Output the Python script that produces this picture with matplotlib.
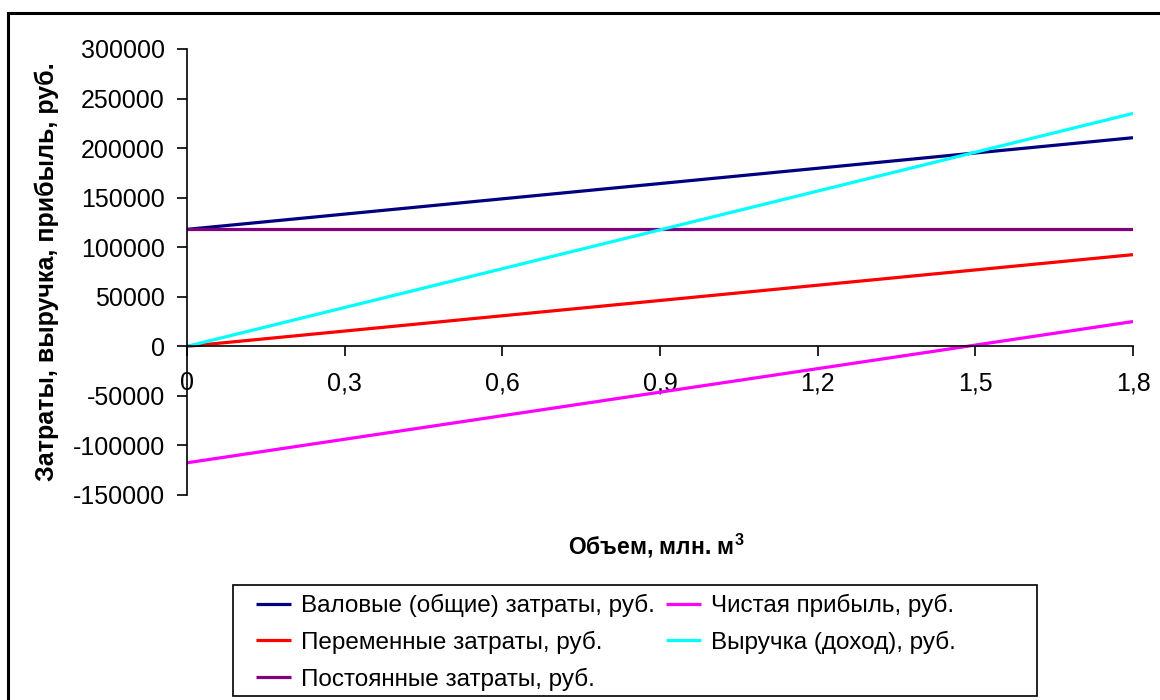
import matplotlib
matplotlib.use("Agg")
import matplotlib.pyplot as plt
from matplotlib.ticker import FuncFormatter, MultipleLocator
from matplotlib.patches import Rectangle

plt.rcParams['font.family'] = ['Liberation Sans', 'DejaVu Sans']
plt.rcParams['mathtext.fontset'] = 'custom'
plt.rcParams['mathtext.rm'] = 'Liberation Sans'
plt.rcParams['mathtext.bf'] = 'Liberation Sans:bold'

volume = [0.0, 1.8]
total_costs = [118000, 210500]
variable_costs = [0, 92500]
fixed_costs = [118000, 118000]
net_profit = [-117500, 25000]
revenue = [0, 235000]

labels = ["Валовые (общие) затраты, руб.", "Переменные затраты, руб.",
          "Постоянные затраты, руб.", "Чистая прибыль, руб.", "Выручка (доход), руб."]
colors = ["#000080", "#FF0000", "#800080", "#FF00FF", "#00FFFF"]
series = [total_costs, variable_costs, fixed_costs, net_profit, revenue]

W, H = 1160, 700
fig = plt.figure(figsize=(W / 100, H / 100), dpi=100)
ax = fig.add_axes([187 / W, 1 - 495 / H, (1133 - 187) / W, (495 - 49) / H])

# outer border
fig.patches.append(Rectangle((8 / W, -0.1), 1.2, 1 - 13 / H + 0.1, transform=fig.transFigure,
                             fill=False, edgecolor='black', linewidth=2.2))

handles = []
for vals, lab, c in zip(series, labels, colors):
    h, = ax.plot(volume, vals, color=c, lw=2.3, label=lab, solid_capstyle='butt')
    handles.append(h)

ax.set_xlim(0, 1.8)
ax.set_ylim(-150000, 300000)
ax.yaxis.set_major_locator(MultipleLocator(50000))
ax.xaxis.set_major_locator(MultipleLocator(0.3))
ax.xaxis.set_major_formatter(FuncFormatter(lambda v, p: ("%g" % round(v, 1)).replace('.', ',')))
ax.yaxis.set_major_formatter(FuncFormatter(lambda v, p: "%d" % v))

for s in ['top', 'right']:
    ax.spines[s].set_visible(False)
ax.spines['bottom'].set_position(('data', 0))
ax.spines['left'].set_color('black')
ax.spines['bottom'].set_color('black')
ax.spines['left'].set_linewidth(1.2)
ax.spines['bottom'].set_linewidth(1.2)
ax.tick_params(axis='y', direction='out', length=7, width=1.2, labelsize=18, pad=9)
ax.tick_params(axis='x', direction='out', length=7, width=1.2, labelsize=18, pad=11)

ax.set_ylabel("Затраты, выручка, прибыль, руб.", fontsize=18, fontweight='bold', labelpad=10)
fig.text(656 / W, 1 - 546 / H, r"Объем, млн. м$^{\mathbf{3}}$", fontsize=16.5, fontweight='bold',
         ha='center', va='center')

# legend box
fig.patches.append(Rectangle((233 / W, 1 - 696 / H), (1037 - 233) / W, (696 - 585) / H,
                             transform=fig.transFigure, fill=False, edgecolor='black',
                             linewidth=1.2))
leg = fig.legend(handles=handles, ncol=2, loc='upper left',
                 bbox_to_anchor=(239 / W, 1 - 577 / H), fontsize=17.5,
                 frameon=False,
                 handlelength=1.45, handletextpad=0.4, columnspacing=0.45,
                 labelspacing=0.56, borderpad=0.2)

fig.savefig("out.png", dpi=100)
